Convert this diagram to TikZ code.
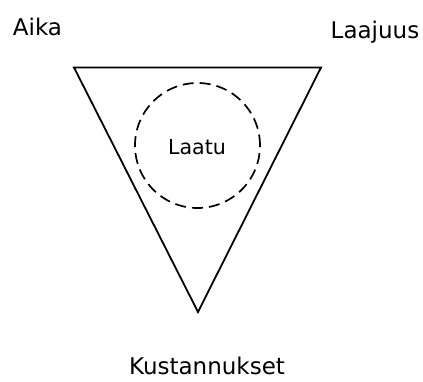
\documentclass[tikz,border=0pt]{standalone}
\usepackage{fontspec}
\setmainfont{DejaVu Sans}
\usetikzlibrary{positioning}
\tikzstyle{label}=[font=\fontsize{23}{27}\selectfont, inner sep=0pt, text depth=0pt, anchor=base]
\tikzstyle{ring}=[draw, circle, dash pattern=on 11pt off 6pt, line width=1.7pt, minimum size=125pt, inner sep=0pt]

\begin{document}
\begin{tikzpicture}[x=1pt, y=-1pt, line width=1.8pt]
    \useasboundingbox (0,0) rectangle (423,381);
    \coordinate (tl) at (74,67.5);
    \coordinate (tr) at (321,67.5);
    \coordinate (bot) at (198,312);
    \draw[line join=miter] (tl) -- (tr) -- (bot) -- cycle;
    \node[ring] (quality) at (197.5,145.5) {};
    \node[label, font=\fontsize{20.6}{24}\selectfont] (laatu) at (197,154) {Laatu};
    \node[label] (aika) at (37.5,35) {Aika};
    \node[label] (laajuus) at (375,38.5) {Laajuus};
    \node[label] (kust) at (207,374) {Kustannukset};
\end{tikzpicture}
\end{document}
